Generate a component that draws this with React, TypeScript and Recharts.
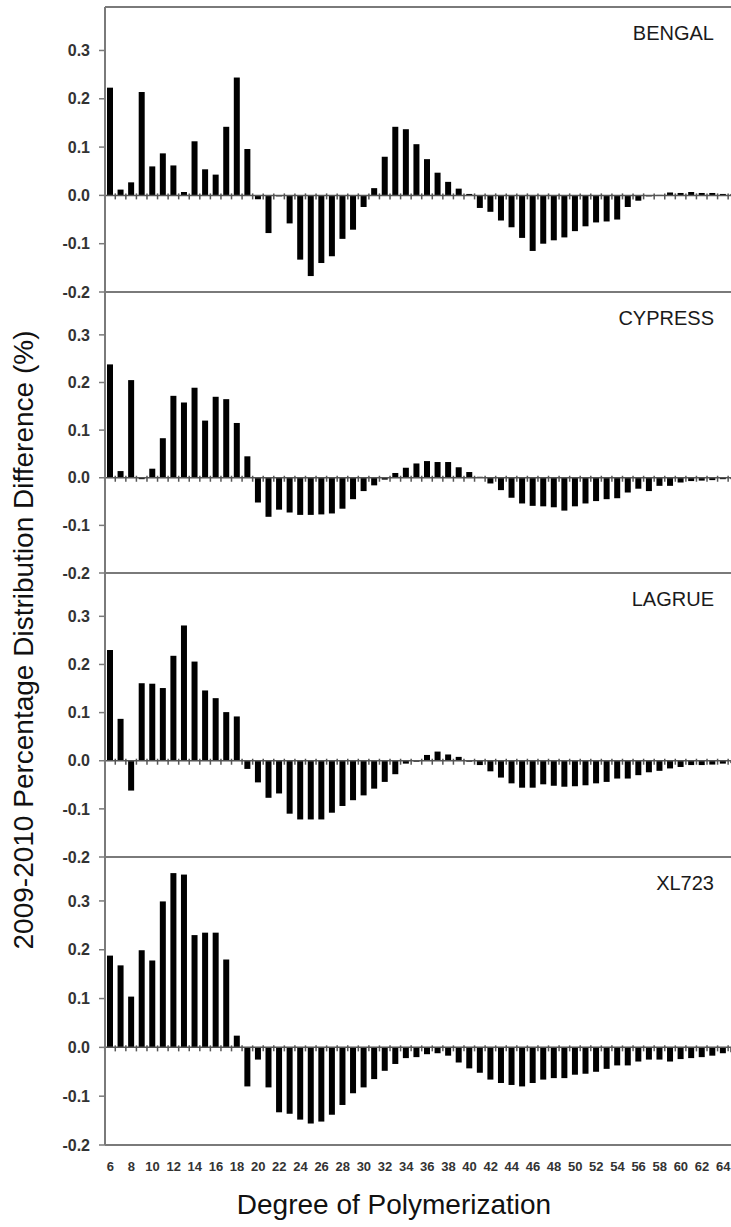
import React from 'react';
import { BarChart, Bar, XAxis, YAxis, ReferenceLine } from 'recharts';

const dp = [6, 7, 8, 9, 10, 11, 12, 13, 14, 15, 16, 17, 18, 19, 20, 21, 22, 23, 24, 25, 26, 27, 28, 29, 30,
  31, 32, 33, 34, 35, 36, 37, 38, 39, 40, 41, 42, 43, 44, 45, 46, 47, 48, 49, 50,
  51, 52, 53, 54, 55, 56, 57, 58, 59, 60, 61, 62, 63, 64, 65];

const bengal = [0.223, 0.012, 0.027, 0.214, 0.060, 0.087, 0.062, 0.007, 0.112, 0.054, 0.043, 0.142, 0.244, 0.096,
  -0.008, -0.078, -0.002, -0.058, -0.133, -0.167, -0.140, -0.126, -0.090, -0.071, -0.024,
  0.015, 0.080, 0.142, 0.137, 0.106, 0.075, 0.047, 0.028, 0.014, 0.003,
  -0.026, -0.034, -0.052, -0.066, -0.088, -0.115, -0.100, -0.093, -0.087, -0.074,
  -0.064, -0.056, -0.054, -0.050, -0.024, -0.011, -0.002, 0.001, 0.006, 0.005,
  0.007, 0.005, 0.005, 0.003, 0.003];

const cypress = [0.238, 0.014, 0.205, -0.003, 0.019, 0.083, 0.172, 0.158, 0.189, 0.120, 0.170, 0.165, 0.115, 0.045,
  -0.052, -0.082, -0.067, -0.073, -0.078, -0.078, -0.077, -0.075, -0.065, -0.045, -0.028,
  -0.016, -0.004, 0.010, 0.021, 0.030, 0.035, 0.033, 0.033, 0.022, 0.012,
  0.002, -0.012, -0.026, -0.042, -0.054, -0.059, -0.060, -0.062, -0.069, -0.060,
  -0.054, -0.049, -0.045, -0.043, -0.031, -0.023, -0.028, -0.017, -0.017, -0.010,
  -0.007, -0.006, -0.005, -0.003, -0.003];

const lagrue = [0.230, 0.087, -0.062, 0.161, 0.160, 0.151, 0.218, 0.281, 0.206, 0.146, 0.130, 0.101, 0.092, -0.017,
  -0.045, -0.077, -0.068, -0.110, -0.122, -0.122, -0.122, -0.108, -0.094, -0.082, -0.072,
  -0.058, -0.044, -0.028, -0.006, -0.002, 0.012, 0.019, 0.013, 0.008, -0.002,
  -0.009, -0.022, -0.035, -0.047, -0.056, -0.056, -0.049, -0.052, -0.054, -0.053,
  -0.051, -0.047, -0.044, -0.037, -0.037, -0.030, -0.024, -0.021, -0.016, -0.013,
  -0.009, -0.009, -0.008, -0.006, -0.005];

const xl723 = [0.188, 0.168, 0.104, 0.199, 0.178, 0.299, 0.357, 0.354, 0.230, 0.235, 0.235, 0.180, 0.024, -0.080,
  -0.025, -0.082, -0.133, -0.136, -0.148, -0.156, -0.152, -0.138, -0.118, -0.094, -0.082,
  -0.065, -0.048, -0.034, -0.022, -0.020, -0.014, -0.012, -0.017, -0.031, -0.043,
  -0.052, -0.066, -0.073, -0.077, -0.080, -0.073, -0.066, -0.063, -0.063, -0.056,
  -0.054, -0.050, -0.044, -0.037, -0.037, -0.029, -0.025, -0.025, -0.029, -0.024,
  -0.022, -0.020, -0.017, -0.012, -0.010];

const panelNames = ['BENGAL', 'CYPRESS', 'LAGRUE', 'XL723'];
const yTicks = [-0.2, -0.1, 0.0, 0.1, 0.2, 0.3];
const yDomain = [-0.2, 0.39];
const yTitle = '2009-2010 Percentage Distribution Difference (%)';
const xTitle = 'Degree of Polymerization';

const FONT = "'Liberation Sans', Arial, Helvetica, sans-serif";
const AXIS = '#7a7a7a';
const CHART_W = 760;
const Y_W = 105;
const M_RIGHT = 21;

const makeShape = (band: number) => (props: any) => {
  const { x, y, width, height, payload } = props;
  const v = payload.v;
  const y0 = v >= 0 ? Math.max(y, y + height) : Math.min(y, y + height);
  const top = Math.min(y, y + height);
  const h = Math.abs(height);
  const tx = x + width / 2 - band / 2;
  return (
    <g>
      <rect x={x} y={top} width={width} height={h} fill="#000" />
      <line x1={tx} x2={tx} y1={y0 - 2} y2={y0 + 4} stroke="#555" strokeWidth={1.5} />
    </g>
  );
};

type PanelProps = { values: number[]; top: number; plotH: number; last: boolean };

function Panel({ values, top, plotH, last }: PanelProps) {
  const data = dp.map((d, i) => ({ dp: d, v: values[i] }));
  const mt = 10;
  const mb = 10;
  const xh = last ? 40 : 0;
  const band = (CHART_W - Y_W - M_RIGHT) / dp.length;
  return (
    <div style={{ position: 'absolute', left: 0, top: top - mt }}>
      <BarChart
        width={CHART_W}
        height={plotH + mt + mb + xh}
        data={data}
        margin={{ top: mt, right: M_RIGHT, bottom: mb, left: 0 }}
        barSize={6}
        barCategoryGap={0}
      >
        <XAxis
          dataKey="dp"
          hide={!last}
          height={xh}
          interval={1}
          tickLine={false}
          tickSize={6}
          tickMargin={11}
          tick={{ fontSize: 13, fontWeight: 'bold', fill: '#333', fontFamily: FONT }}
          axisLine={{ stroke: AXIS, strokeWidth: 2 }}
        />
        <YAxis
          type="number"
          domain={yDomain}
          ticks={yTicks}
          allowDataOverflow
          width={Y_W}
          tickSize={6}
          tickMargin={9}
          interval={0}
          tickFormatter={(v: number) => v.toFixed(1)}
          tick={{ fontSize: 16, fontWeight: 'bold', fill: '#333', fontFamily: FONT }}
          tickLine={{ stroke: AXIS, strokeWidth: 1.5 }}
          axisLine={{ stroke: AXIS, strokeWidth: 2 }}
        />
        <ReferenceLine y={yDomain[1]} stroke={AXIS} strokeWidth={2} ifOverflow="visible" />
        <ReferenceLine y={yDomain[0]} stroke={AXIS} strokeWidth={2} ifOverflow="visible" />
        <ReferenceLine y={0} stroke="#555" strokeWidth={1.5} />
        <Bar dataKey="v" fill="#000" isAnimationActive={false} shape={makeShape(band)} />
      </BarChart>
    </div>
  );
}

export default function App() {
  const series = [bengal, cypress, lagrue, xl723];
  const tops = [7, 292, 573, 857];
  const heights = [285, 281, 284, 288];
  return (
    <div
      style={{
        position: 'absolute',
        left: 0,
        top: 0,
        width: 731,
        height: 1227,
        overflow: 'hidden',
        background: '#fff',
        fontFamily: FONT,
      }}
    >
      {series.map((s, i) => (
        <Panel key={i} values={s} top={tops[i]} plotH={heights[i]} last={i === 3} />
      ))}
      <svg
        width={731}
        height={1227}
        style={{ position: 'absolute', left: 0, top: 0, pointerEvents: 'none' }}
      >
        {panelNames.map((n, i) => (
          <text
            key={n}
            x={714}
            y={tops[i] + 33}
            textAnchor="end"
            fontSize={20}
            fill="#1a1a1a"
            fontFamily={FONT}
          >
            {n}
          </text>
        ))}
        <text
          transform="translate(33, 640) rotate(-90)"
          textAnchor="middle"
          fontSize={28}
          fill="#111"
          fontFamily={FONT}
        >
          {yTitle}
        </text>
        <text x={394} y={1214} textAnchor="middle" fontSize={28} fill="#111" fontFamily={FONT}>
          {xTitle}
        </text>
      </svg>
    </div>
  );
}
